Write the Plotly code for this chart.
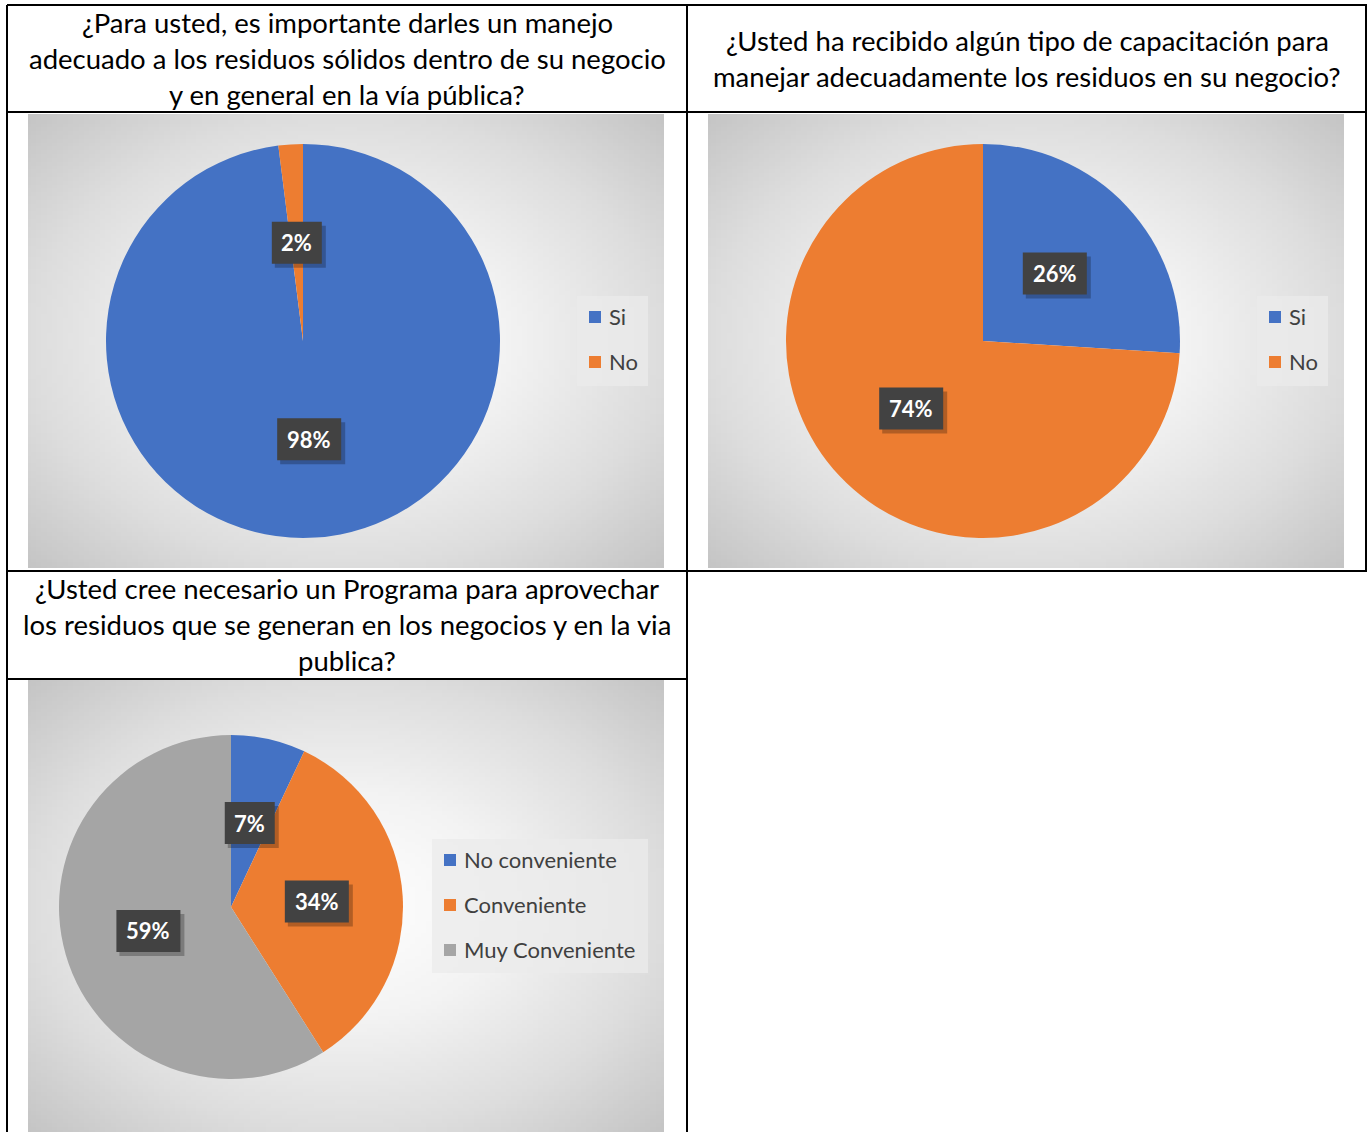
"""
Tres gráficos de torta dentro de una tabla de encuesta sobre residuos sólidos.
"""

import numpy as np
import plotly.graph_objects as go

W, H = 1369, 1132

# Datos
titulo_1 = ["¿Para usted, es importante darles un manejo",
            "adecuado a los residuos sólidos dentro de su negocio",
            "y en general en la vía pública?"]
etiquetas_1 = ["Si", "No"]
valores_1 = [98, 2]

titulo_2 = ["¿Usted ha recibido algún tipo de capacitación para",
            "manejar adecuadamente los residuos en su negocio?"]
etiquetas_2 = ["Si", "No"]
valores_2 = [26, 74]

titulo_3 = ["¿Usted cree necesario un Programa para aprovechar",
            "los residuos que se generan en los negocios y en la via",
            "publica?"]
etiquetas_3 = ["No conveniente", "Conveniente", "Muy Conveniente"]
valores_3 = [7, 34, 59]

COLORES = ["#4472C4", "#ED7D31", "#A5A5A5"]
FUENTE = "Lato, 'Open Sans', sans-serif"


def px(x):
    return x / W


def py(y):
    return 1 - y / H


def caja(x0, y0, x1, y1, color):
    return dict(type='rect', xref='paper', yref='paper',
                x0=px(x0), x1=px(x1), y0=py(y1), y1=py(y0),
                fillcolor=color, line=dict(width=0))


fig = go.Figure()
shapes = []
annotations = []

# Fondos con degradado radial (área de cada gráfico)
areas = [(28, 114, 664, 568), (708, 114, 1344, 568), (28, 680, 664, 1132)]
g = np.linspace(-1, 1, 120)
gx, gy = np.meshgrid(g, g)
radio = np.sqrt(gx**2 + gy**2)
for i, (x0, y0, x1, y1) in enumerate(areas):
    k = '' if i == 0 else str(i + 1)
    fig.add_trace(go.Heatmap(
        z=radio, x=g, y=g, xaxis='x' + k, yaxis='y' + k,
        colorscale=[[0, '#ffffff'], [0.35, '#f3f3f3'], [0.7, '#dddddd'], [1, '#c4c4c4']],
        zmin=0, zmax=1.414, showscale=False, hoverinfo='skip'
    ))
    fig.layout['xaxis' + k] = dict(domain=[px(x0), px(x1)], visible=False,
                                   range=[-1, 1], fixedrange=True,
                                   anchor='y' + k)
    fig.layout['yaxis' + k] = dict(domain=[py(y1), py(y0)], visible=False,
                                   range=[-1, 1], fixedrange=True,
                                   anchor='x' + k)

# Tortas
tortas = [
    (etiquetas_1, valores_1, 303, 341, 197, (577, 296, 648, 386)),
    (etiquetas_2, valores_2, 983, 341, 197, (1257, 296, 1328, 386)),
    (etiquetas_3, valores_3, 231, 907, 172, (432, 839, 648, 973)),
]
for etiquetas, valores, cx, cy, R, leyenda in tortas:
    fig.add_trace(go.Pie(
        labels=etiquetas, values=valores, sort=False, direction='clockwise',
        rotation=0, textinfo='none', showlegend=False,
        marker=dict(colors=COLORES[:len(valores)], line=dict(width=0)),
        domain=dict(x=[px(cx - R), px(cx + R)], y=[py(cy + R), py(cy - R)])
    ))

    # Etiquetas de datos a media distancia del radio
    total = sum(valores)
    acum = 0
    for v in valores:
        ang = np.radians((acum + v / 2) / total * 360)
        acum += v
        lx = cx + 0.5 * R * np.sin(ang)
        ly = cy - 0.5 * R * np.cos(ang)
        texto = f"{round(100 * v / total)}%"
        a = 14 * len(texto) + 22
        shapes.append(caja(lx - a / 2 + 3, ly - 21 + 4, lx + a / 2 + 4, ly + 21 + 4,
                           'rgba(0,0,0,0.25)'))
        shapes.append(caja(lx - a / 2, ly - 21, lx + a / 2, ly + 21, '#424242'))
        annotations.append(dict(
            x=px(lx), y=py(ly), xref='paper', yref='paper',
            text=f"<b>{texto}</b>", showarrow=False,
            xanchor='center', yanchor='middle',
            font=dict(family=FUENTE, size=22, color='white')))

    # Leyenda
    x0, y0, x1, y1 = leyenda
    shapes.append(caja(x0, y0, x1, y1, 'rgba(235,235,235,0.75)'))
    for j, et in enumerate(etiquetas):
        yy = y0 + 21 + j * 45
        shapes.append(caja(x0 + 12, yy - 6, x0 + 24, yy + 6, COLORES[j]))
        annotations.append(dict(
            x=px(x0 + 30), y=py(yy - 1), xref='paper', yref='paper',
            xanchor='left', yanchor='middle', text=et, showarrow=False,
            font=dict(family=FUENTE, size=22, color='#404040')))

# Títulos
for lineas, cx, y_ini in [(titulo_1, 347, 22), (titulo_2, 1027, 40), (titulo_3, 347, 588)]:
    for j, linea in enumerate(lineas):
        annotations.append(dict(
            x=px(cx), y=py(y_ini + 36 * j), xref='paper', yref='paper',
            xanchor='center', yanchor='middle', text=linea, showarrow=False,
            font=dict(family=FUENTE, size=27.5, color='black')))

# Bordes de la tabla
lineas_tabla = [
    (7, 5, 1367, 5), (7, 112, 1367, 112), (7, 571, 1367, 571),
    (7, 679, 687, 679), (7, 5, 7, 1132), (687, 5, 687, 1132),
    (1366, 5, 1366, 571),
]
for x0, y0, x1, y1 in lineas_tabla:
    shapes.append(dict(type='line', xref='paper', yref='paper',
                       x0=px(x0), y0=py(y0), x1=px(x1), y1=py(y1),
                       line=dict(color='black', width=2)))

fig.update_layout(
    width=W, height=H, margin=dict(l=0, r=0, t=0, b=0),
    paper_bgcolor='white', plot_bgcolor='white',
    shapes=shapes, annotations=annotations, showlegend=False
)

fig.write_html("out.html", config={'displayModeBar': False},
               post_script="document.body.style.margin='0';")
